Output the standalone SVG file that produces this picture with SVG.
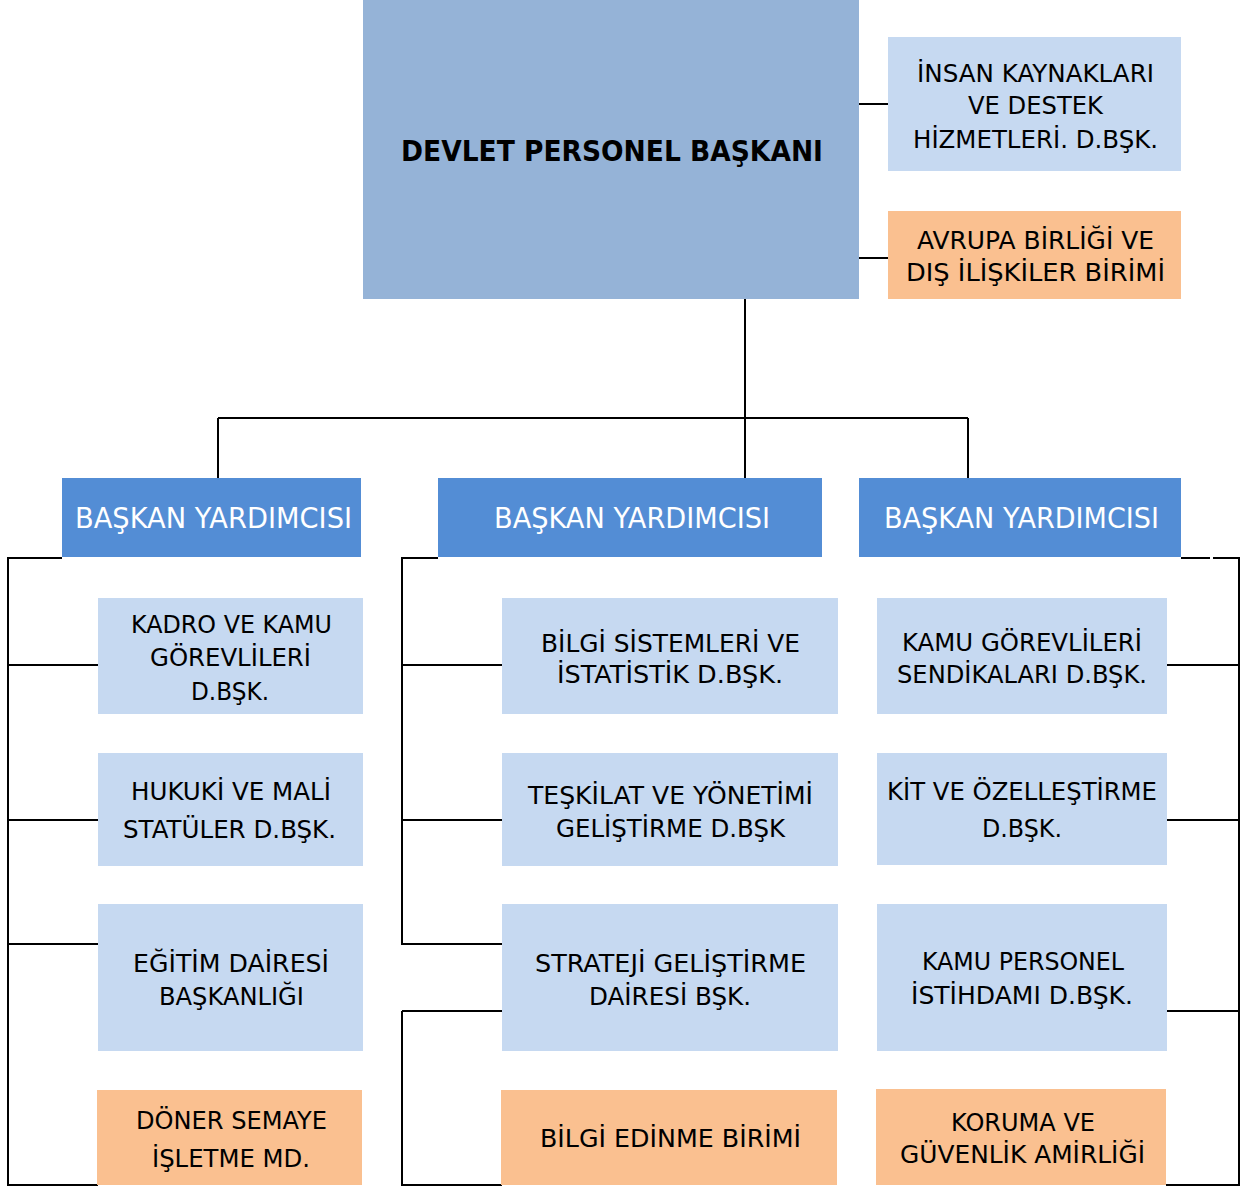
<svg xmlns="http://www.w3.org/2000/svg" width="1246" height="1187" viewBox="0 0 1246 1187">
<style>
.top{fill:#95B3D7}
.lb{fill:#C6D9F1}
.or{fill:#FAC090}
.by{fill:#538DD5}
text{font-family:"DejaVu Sans","Noto Sans",sans-serif;font-size:25px;fill:#000}
.s{font-size:24px}
.t{font-size:28px;font-weight:bold}
.w{font-size:28px;fill:#fff}
.c{fill:none;stroke:#000;stroke-width:2}
</style>
<rect width="1246" height="1187" fill="#fff"/>
<g id="connectors">
<path class="c" d="M859,104H888M859,258H888"/>
<path class="c" d="M745,299V478M218,418H968M218,418V478M968,418V478"/>
<path class="c" d="M62,558H8V1185H98M8,665H98M8,820H98M8,944H98"/>
<path class="c" d="M438,558H402V944H502M402,665H502M402,820H502M402,1011H502M402,1011V1185H502"/>
<path class="c" d="M1181,558H1210M1213,558H1239V1185H1166M1167,665H1239M1167,820H1239M1167,1011H1239"/>
</g>
<g id="n-baskan">
<rect class="top" x="363" y="0" width="496" height="299"/>
<text class="t" x="401" y="161" textLength="422" lengthAdjust="spacingAndGlyphs">DEVLET PERSONEL BAŞKANI</text>
</g>
<g id="n-insan">
<rect class="lb" x="888" y="37" width="293" height="134"/>
<text class="s" x="917" y="82" textLength="237" lengthAdjust="spacingAndGlyphs">İNSAN KAYNAKLARI</text>
<text class="s" x="968" y="114" textLength="135" lengthAdjust="spacingAndGlyphs">VE DESTEK</text>
<text class="s" x="913" y="148" textLength="245" lengthAdjust="spacingAndGlyphs">HİZMETLERİ. D.BŞK.</text>
</g>
<g id="n-avrupa">
<rect class="or" x="888" y="211" width="293" height="88"/>
<text class="s" x="917" y="249" textLength="237" lengthAdjust="spacingAndGlyphs">AVRUPA BİRLİĞİ VE</text>
<text class="s" x="906" y="281" textLength="259" lengthAdjust="spacingAndGlyphs">DIŞ İLİŞKİLER BİRİMİ</text>
</g>
<g id="n-by1">
<rect class="by" x="62" y="478" width="299" height="79"/>
<text class="w" x="75" y="528" textLength="277" lengthAdjust="spacingAndGlyphs">BAŞKAN YARDIMCISI</text>
</g>
<g id="n-by2">
<rect class="by" x="438" y="478" width="384" height="79"/>
<text class="w" x="494" y="528" textLength="276" lengthAdjust="spacingAndGlyphs">BAŞKAN YARDIMCISI</text>
</g>
<g id="n-by3">
<rect class="by" x="859" y="478" width="322" height="79"/>
<text class="w" x="884" y="528" textLength="275" lengthAdjust="spacingAndGlyphs">BAŞKAN YARDIMCISI</text>
</g>
<g id="n-kadro">
<rect class="lb" x="98" y="598" width="265" height="116"/>
<text x="131" y="633" textLength="201" lengthAdjust="spacingAndGlyphs">KADRO VE KAMU</text>
<text x="150" y="666" textLength="161" lengthAdjust="spacingAndGlyphs">GÖREVLİLERİ</text>
<text x="191" y="700" textLength="78" lengthAdjust="spacingAndGlyphs">D.BŞK.</text>
</g>
<g id="n-hukuki">
<rect class="lb" x="98" y="753" width="265" height="113"/>
<text x="131" y="800" textLength="200" lengthAdjust="spacingAndGlyphs">HUKUKİ VE MALİ</text>
<text x="123" y="838" textLength="213" lengthAdjust="spacingAndGlyphs">STATÜLER D.BŞK.</text>
</g>
<g id="n-egitim">
<rect class="lb" x="98" y="904" width="265" height="147"/>
<text x="133" y="972" textLength="196" lengthAdjust="spacingAndGlyphs">EĞİTİM DAİRESİ</text>
<text x="159" y="1005" textLength="145" lengthAdjust="spacingAndGlyphs">BAŞKANLIĞI</text>
</g>
<g id="n-doner">
<rect class="or" x="97" y="1090" width="265" height="95"/>
<text x="136" y="1129" textLength="191" lengthAdjust="spacingAndGlyphs">DÖNER SEMAYE</text>
<text x="152" y="1167" textLength="158" lengthAdjust="spacingAndGlyphs">İŞLETME MD.</text>
</g>
<g id="n-bilgisis">
<rect class="lb" x="502" y="598" width="336" height="116"/>
<text x="541" y="652" textLength="259" lengthAdjust="spacingAndGlyphs">BİLGİ SİSTEMLERİ VE</text>
<text x="557" y="683" textLength="226" lengthAdjust="spacingAndGlyphs">İSTATİSTİK D.BŞK.</text>
</g>
<g id="n-teskilat">
<rect class="lb" x="502" y="753" width="336" height="113"/>
<text x="528" y="804" textLength="285" lengthAdjust="spacingAndGlyphs">TEŞKİLAT VE YÖNETİMİ</text>
<text x="556" y="837" textLength="229" lengthAdjust="spacingAndGlyphs">GELİŞTİRME D.BŞK</text>
</g>
<g id="n-strateji">
<rect class="lb" x="502" y="904" width="336" height="147"/>
<text x="535" y="972" textLength="271" lengthAdjust="spacingAndGlyphs">STRATEJİ GELİŞTİRME</text>
<text x="589" y="1005" textLength="162" lengthAdjust="spacingAndGlyphs">DAİRESİ BŞK.</text>
</g>
<g id="n-bilgiedinme">
<rect class="or" x="501" y="1090" width="336" height="95"/>
<text x="540" y="1147" textLength="261" lengthAdjust="spacingAndGlyphs">BİLGİ EDİNME BİRİMİ</text>
</g>
<g id="n-kamugor">
<rect class="lb" x="877" y="598" width="290" height="116"/>
<text x="902" y="651" textLength="240" lengthAdjust="spacingAndGlyphs">KAMU GÖREVLİLERİ</text>
<text x="897" y="683" textLength="250" lengthAdjust="spacingAndGlyphs">SENDİKALARI D.BŞK.</text>
</g>
<g id="n-kit">
<rect class="lb" x="877" y="753" width="290" height="112"/>
<text x="887" y="800" textLength="270" lengthAdjust="spacingAndGlyphs">KİT VE ÖZELLEŞTİRME</text>
<text x="982" y="837" textLength="80" lengthAdjust="spacingAndGlyphs">D.BŞK.</text>
</g>
<g id="n-kamupers">
<rect class="lb" x="877" y="904" width="290" height="147"/>
<text x="922" y="970" textLength="202" lengthAdjust="spacingAndGlyphs">KAMU PERSONEL</text>
<text x="911" y="1004" textLength="222" lengthAdjust="spacingAndGlyphs">İSTİHDAMI D.BŞK.</text>
</g>
<g id="n-koruma">
<rect class="or" x="876" y="1089" width="290" height="96"/>
<text x="951" y="1131" textLength="144" lengthAdjust="spacingAndGlyphs">KORUMA VE</text>
<text x="900" y="1163" textLength="245" lengthAdjust="spacingAndGlyphs">GÜVENLİK AMİRLİĞİ</text>
</g>
</svg>
